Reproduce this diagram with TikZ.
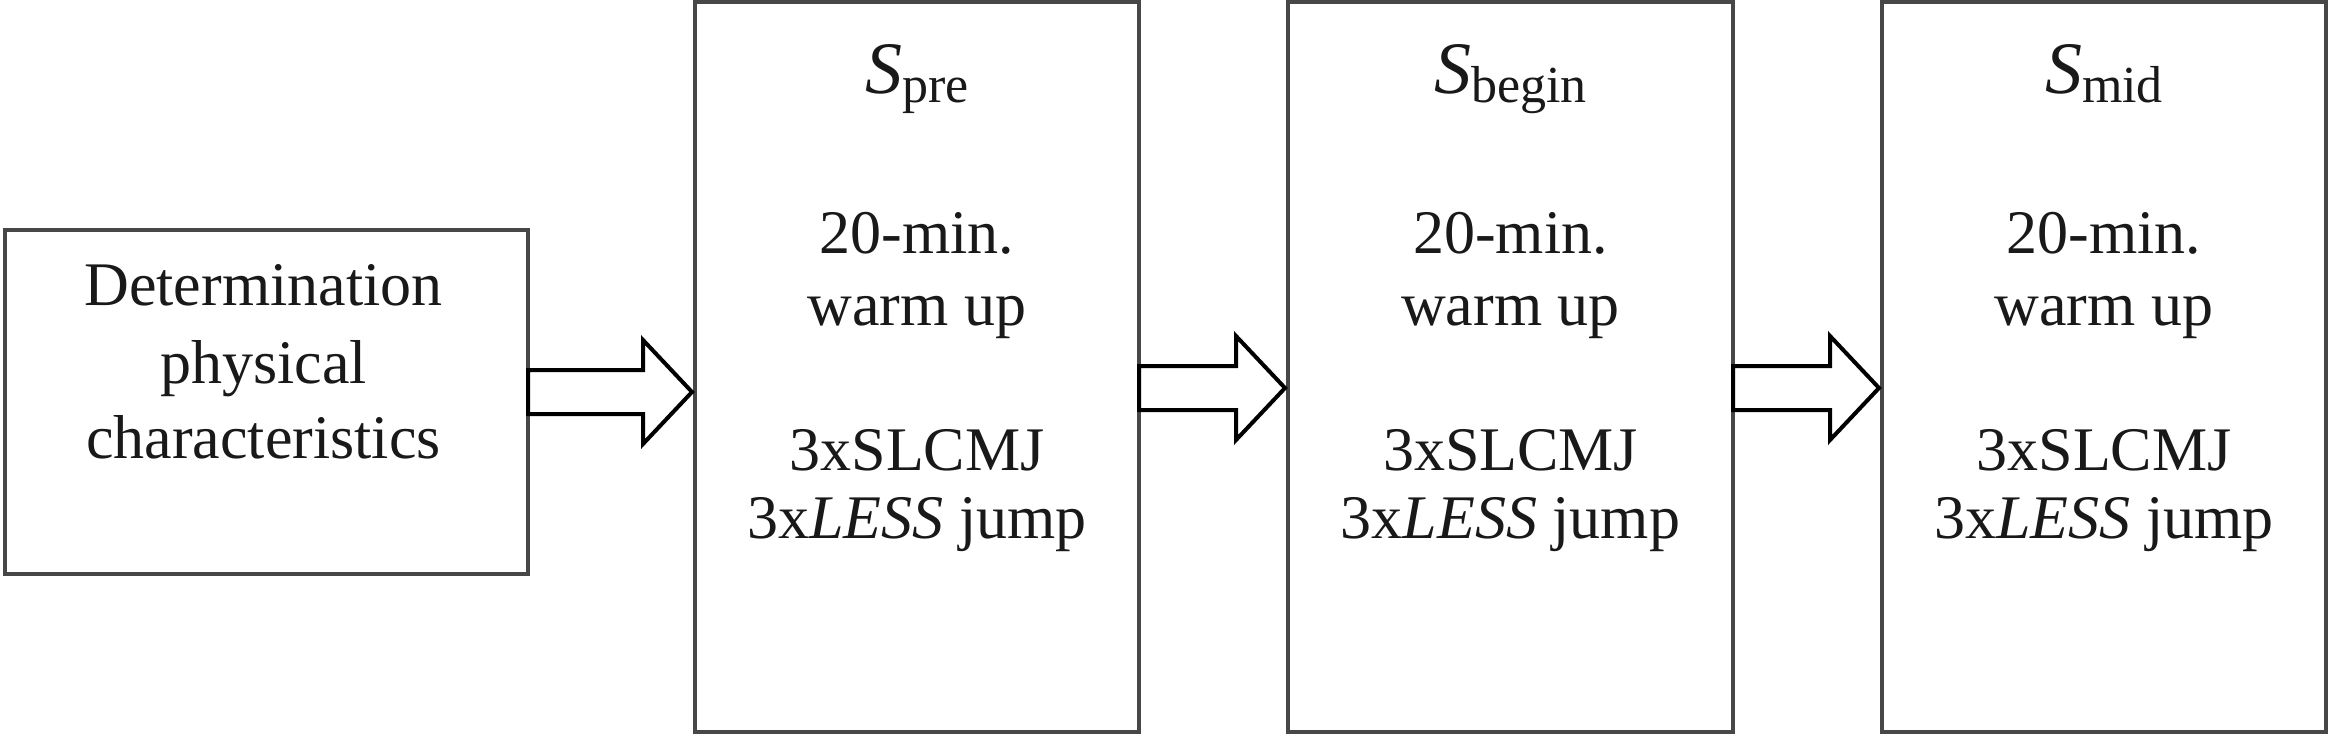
\documentclass[tikz,border=0pt]{standalone}
\usepackage{fontspec}
\setmainfont{Liberation Serif}
\newfontfamily\tnrfont{Liberation Serif}
\usetikzlibrary{calc}
\newcommand\Slabel[1]{{\tnrfont\fontsize{37}{40}\selectfont\itshape S}\raisebox{-4.5pt}{\tnrfont\fontsize{26}{30}\selectfont #1}}
\newcommand\fatarrow[2]{\draw[fatarr] ($(#1)+(0,-22)$) -- ($(#2)+(-49,-22)$) -- ($(#2)+(-49,-52)$) -- (#2) -- ($(#2)+(-49,52)$) -- ($(#2)+(-49,22)$) -- ($(#1)+(0,22)$) -- cycle;}
\begin{document}
\begin{tikzpicture}[x=0.5pt,y=-0.5pt,
  box/.style={draw=black!72, line width=2pt, rectangle, inner sep=0pt, outer sep=0pt, fill=white},
  fatarr/.style={draw=black, line width=2pt, fill=white, line join=miter},
  txt/.style={inner sep=0pt, outer sep=0pt, anchor=base, text=black!90, font=\tnrfont\fontsize{31}{36}\selectfont},
]
\useasboundingbox (0,0) rectangle (2332,734);
\fill[white] (0,0) rectangle (2332,734);

% boxes
\node[box, minimum width=261.5pt, minimum height=172pt] (b1) at (266.5,402) {};
\node[box, minimum width=222pt, minimum height=365pt] (b2) at (917,367) {};
\node[box, minimum width=222.5pt, minimum height=365pt] (b3) at (1510.5,367) {};
\node[box, minimum width=222pt, minimum height=365pt] (b4) at (2104,367) {};

% box 1 text
\node[txt] (t1a) at ($(b1.center |- 0,305)+(-3,0)$) {Determination};
\node[txt] (t1b) at ($(b1.center |- 0,383)+(-3,0)$) {physical};
\node[txt] (t1c) at ($(b1.center |- 0,458)+(-3,0)$) {characteristics};

% box 2 text
\node[txt] (t2s) at (b2.center |- 0,93) {\Slabel{pre}};
\node[txt] (t2a) at (b2.center |- 0,253) {20-min.};
\node[txt] (t2b) at (b2.center |- 0,325) {warm up};
\node[txt] (t2c) at (b2.center |- 0,470) {3xSLCMJ};
\node[txt] (t2d) at (b2.center |- 0,538) {3x\textit{LESS} jump};

% box 3 text
\node[txt] (t3s) at (b3.center |- 0,93) {\Slabel{begin}};
\node[txt] (t3a) at (b3.center |- 0,253) {20-min.};
\node[txt] (t3b) at (b3.center |- 0,325) {warm up};
\node[txt] (t3c) at (b3.center |- 0,470) {3xSLCMJ};
\node[txt] (t3d) at (b3.center |- 0,538) {3x\textit{LESS} jump};

% box 4 text
\node[txt] (t4s) at (b4.center |- 0,93) {\Slabel{mid}};
\node[txt] (t4a) at (b4.center |- 0,253) {20-min.};
\node[txt] (t4b) at (b4.center |- 0,325) {warm up};
\node[txt] (t4c) at (b4.center |- 0,470) {3xSLCMJ};
\node[txt] (t4d) at (b4.center |- 0,538) {3x\textit{LESS} jump};

% arrows
\coordinate (a1s) at (b1.east |- 0,392);
\coordinate (a1e) at ($(b2.west |- 0,392)+(-3,0)$);
\coordinate (a2s) at (b2.east |- 0,388);
\coordinate (a2e) at ($(b3.west |- 0,388)+(-3,0)$);
\coordinate (a3s) at (b3.east |- 0,388);
\coordinate (a3e) at ($(b4.west |- 0,388)+(-3,0)$);
\fatarrow{a1s}{a1e}
\fatarrow{a2s}{a2e}
\fatarrow{a3s}{a3e}
\end{tikzpicture}
\end{document}
